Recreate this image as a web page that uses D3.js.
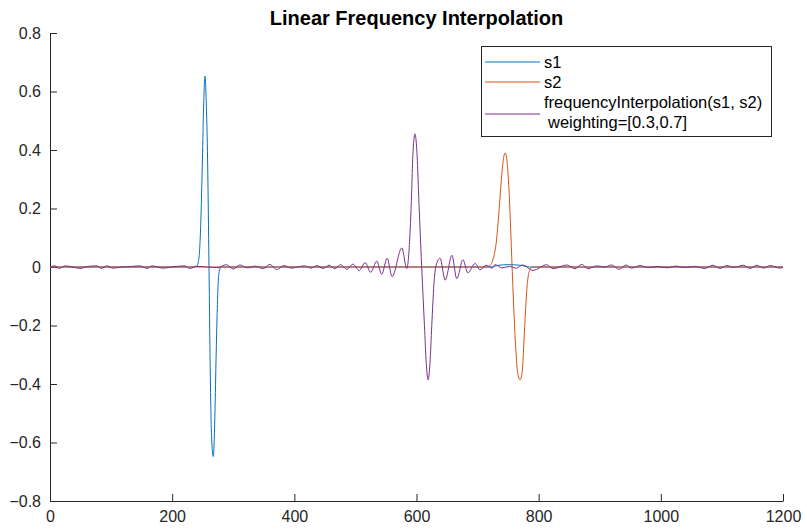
<!DOCTYPE html>
<html>
<head>
<meta charset="utf-8">
<script src="https://cdn.jsdelivr.net/npm/d3@7"></script>
<style>
  body { margin: 0; background: #fff; }
  text { font-family: "Liberation Sans", Arial, Helvetica, sans-serif; }
</style>
</head>
<body>
<div id="chart"></div>
<script>
// values (x = sample index, y = amplitude)
const s1X = [0, 230, 240, 243, 245, 247, 249.5, 251.5, 253.8, 256, 258, 260.3, 262.5, 264.5, 267.4, 270, 272, 273.5, 275, 277, 280, 720, 735, 750, 770, 785, 1200];
const s1Y = [0, 0, 0.003, 0.02, 0.06, 0.16, 0.366, 0.55, 0.653, 0.55, 0.366, 0, -0.38, -0.58, -0.648, -0.5, -0.3, -0.17, -0.07, -0.015, 0, 0, 0.006, 0.008, 0.006, 0, 0];

const s2X = [0, 715, 720, 725, 731, 735, 739, 742, 745, 748, 751, 754, 756.5, 759, 762, 765.5, 769.5, 773, 776, 778.5, 780.5, 783, 786, 790, 1200];
const s2Y = [0, 0, 0.005, 0.024, 0.092, 0.19, 0.3, 0.365, 0.39, 0.365, 0.28, 0.14, 0, -0.13, -0.26, -0.36, -0.386, -0.36, -0.25, -0.15, -0.08, -0.03, -0.008, 0, 0];

const fiX = [0, 8, 15, 25, 37, 49, 62, 77, 84, 93, 103, 118, 135, 147, 159, 167, 185, 203, 221, 229, 240, 258, 275, 289, 300, 311, 323, 336, 349, 360, 371, 383, 395, 409, 417, 427, 437, 447, 457, 466, 476, 486, 496, 506, 516, 525, 535, 543, 552, 560, 576, 584, 589, 592, 594, 597.5, 601, 604, 608.5, 613, 616, 619, 622, 625, 628.5, 632, 638.5, 647, 658, 666, 676, 684, 696, 704, 714, 724, 728.5, 740, 752, 763, 774, 790.7, 813, 823.5, 846, 859.5, 870.5, 880.8, 895, 908, 919.5, 931.5, 943, 952, 966, 980, 995, 1010, 1025, 1040, 1055, 1072, 1085, 1097, 1108, 1120, 1135, 1146, 1157, 1168, 1179, 1195, 1200];
const fiY = [0, 0.004, -0.005, 0.004, 0, -0.005, 0.002, 0.004, -0.005, 0.004, -0.004, 0, 0.002, 0.004, -0.005, 0.004, -0.004, 0.001, 0.004, -0.005, 0.002, 0, -0.002, 0.008, -0.007, 0.007, -0.003, 0.003, -0.006, 0.009, -0.009, 0.005, -0.004, 0.002, 0.004, -0.004, 0.005, -0.005, 0.006, -0.006, 0.008, -0.008, 0.01, -0.012, 0.015, -0.018, 0.02, -0.025, 0.03, -0.033, 0.065, -0.005, 0.1, 0.25, 0.38, 0.455, 0.38, 0.22, 0, -0.2, -0.33, -0.386, -0.33, -0.2, -0.06, 0.005, 0.03, -0.045, 0.04, -0.04, 0.025, -0.02, 0.012, -0.01, 0.006, -0.004, 0.008, -0.003, 0.002, -0.004, 0.007, -0.012, 0.008, -0.006, 0.007, -0.006, 0.009, -0.006, 0.004, 0, 0.007, -0.008, 0.007, -0.004, 0.005, -0.002, 0.002, -0.003, 0.003, -0.002, 0.002, -0.005, 0.006, -0.005, 0.005, -0.001, 0.006, -0.005, 0.006, -0.004, 0.005, -0.004, 0];

const xTicks = [0, 200, 400, 600, 800, 1000, 1200];
const yTicks = [-0.8, -0.6, -0.4, -0.2, 0, 0.2, 0.4, 0.6, 0.8];
const seriesNames = ['s1', 's2', 'frequencyInterpolation(s1, s2)'];
const seriesColors = ['#0072BD', '#D95319', '#7E2F8E'];

const width = 807;
const height = 530;
const margin = { top: 33, right: 24, bottom: 29, left: 50 };
const axisColor = '#262626';

const svg = d3.select('#chart')
              .append('svg')
              .attr('width', width)
              .attr('height', height);

const xScale = d3.scaleLinear()
                 .domain([0, 1200])
                 .range([margin.left, width - margin.right]);

const yScale = d3.scaleLinear()
                 .domain([-0.8, 0.8])
                 .range([height - margin.bottom, margin.top]);

const xAxis = d3.axisBottom(xScale)
                .tickValues(xTicks)
                .tickFormat(d3.format('d'))
                .tickSizeInner(-7)
                .tickSizeOuter(0)
                .tickPadding(10);

const yAxis = d3.axisLeft(yScale)
                .tickValues(yTicks)
                .tickFormat(d => d === 0 ? '0' : d3.format('.1f')(d))
                .tickSizeInner(-7)
                .tickSizeOuter(0)
                .tickPadding(9);

const gx = svg.append('g')
   .attr('transform', 'translate(0, ' + (height - margin.bottom) + ')')
   .call(xAxis);

const gy = svg.append('g')
   .attr('transform', 'translate(' + margin.left + ', 0)')
   .call(yAxis);

[gx, gy].forEach(g => {
  g.select('.domain').attr('stroke', axisColor);
  g.selectAll('.tick line').attr('stroke', axisColor);
  g.selectAll('.tick text')
   .attr('fill', axisColor)
   .style('font-size', '16px')
   .style('font-family', '"Liberation Sans", Arial, sans-serif');
});

// series
const series = [
  { x: s1X, y: s1Y },
  { x: s2X, y: s2Y },
  { x: fiX, y: fiY }
];

const line = d3.line()
               .x(d => xScale(d[0]))
               .y(d => yScale(d[1]))
               .curve(d3.curveMonotoneX);

series.forEach((s, i) => {
  const pts = s.x.map((x, j) => [x, s.y[j]]);
  svg.append('path')
     .datum(pts)
     .attr('fill', 'none')
     .attr('stroke', seriesColors[i])
     .attr('stroke-width', 1)
     .attr('d', line);
});

// title
svg.append('text')
   .attr('x', (margin.left + width - margin.right) / 2)
   .attr('y', 25)
   .attr('text-anchor', 'middle')
   .style('font-size', '20px')
   .style('font-weight', 'bold')
   .attr('fill', '#000')
   .text('Linear Frequency Interpolation');

// legend
const legend = svg.append('g');
legend.append('rect')
      .attr('x', 481.5)
      .attr('y', 46.5)
      .attr('width', 290)
      .attr('height', 90)
      .attr('fill', '#fff')
      .attr('stroke', axisColor);

const legendLineY = [62, 82, 114];
seriesNames.forEach((name, i) => {
  legend.append('line')
        .attr('x1', 485)
        .attr('x2', 540)
        .attr('y1', legendLineY[i])
        .attr('y2', legendLineY[i])
        .attr('stroke', seriesColors[i])
        .attr('stroke-width', 1);
  legend.append('text')
        .attr('x', 544)
        .attr('y', [68, 88, 108][i])
        .style('font-size', '16.5px')
        .attr('fill', '#000')
        .text(name);
});
legend.append('text')
      .attr('x', 548)
      .attr('y', 128)
      .style('font-size', '16.5px')
      .attr('fill', '#000')
      .text('weighting=[0.3,0.7]');
</script>
</body>
</html>
